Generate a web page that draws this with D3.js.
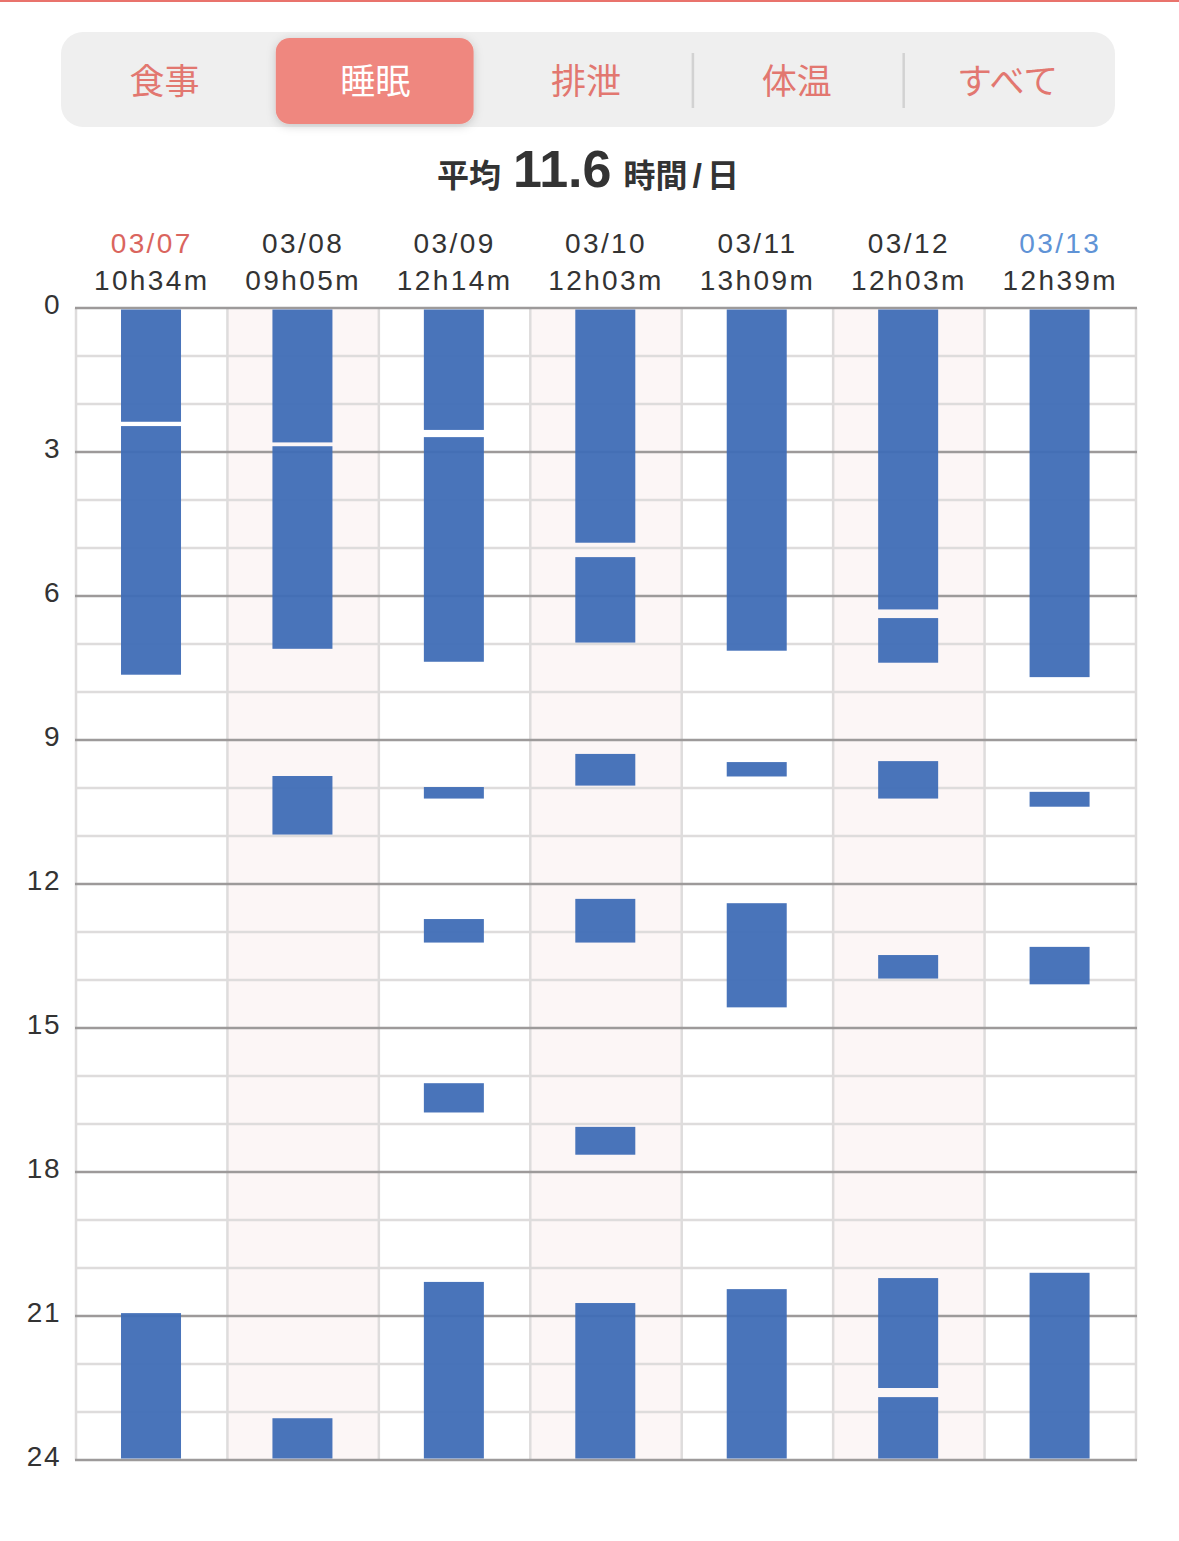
<!DOCTYPE html>
<html lang="ja">
  <head>
    <meta charset="utf-8" />
    <title>睡眠</title>
    <script src="https://d3js.org/d3.v7.min.js"></script>
    <style>
      body { margin: 0; background: #fff; }
      svg { display: block; font-family: "Liberation Sans", "Noto Sans CJK JP", sans-serif; }
    </style>
  </head>
  <body>
    <svg id="chart" width="1179" height="1541"></svg>
  </body>
  <script>
    // Data
    const tabs = ['食事', '睡眠', '排泄', '体温', 'すべて'];
    const selectedTab = '睡眠';
    const dates = ['03/07', '03/08', '03/09', '03/10', '03/11', '03/12', '03/13'];
    const totals = ['10h34m', '09h05m', '12h14m', '12h03m', '13h09m', '12h03m', '12h39m'];
    const hourTicks = [0, 3, 6, 9, 12, 15, 18, 21, 24];
    const average = '11.6';

    // sleep spans per day, [start hour, end hour]
    const sleep0307 = [[0, 2.37], [2.46, 7.64], [20.94, 24]];
    const sleep0308 = [[0, 2.8], [2.88, 7.1], [9.75, 10.97], [23.13, 24]];
    const sleep0309 = [[0, 2.54], [2.69, 7.37], [9.98, 10.22], [12.73, 13.22], [16.15, 16.76], [20.29, 24]];
    const sleep0310 = [[0, 4.89], [5.19, 6.97], [9.29, 9.95], [12.31, 13.22], [17.06, 17.64], [20.73, 24]];
    const sleep0311 = [[0, 7.14], [9.46, 9.76], [12.4, 14.57], [20.44, 24]];
    const sleep0312 = [[0, 6.28], [6.46, 7.39], [9.44, 10.22], [13.48, 13.97], [20.21, 22.5], [22.69, 24]];
    const sleep0313 = [[0, 7.69], [10.08, 10.39], [13.31, 14.09], [20.1, 24]];

    const spansByDay = [sleep0307, sleep0308, sleep0309, sleep0310, sleep0311, sleep0312, sleep0313];
    const spans = spansByDay.flatMap((list, i) =>
      list.map(([start, end]) => ({ date: dates[i], start, end })));

    const svg = d3.select('#chart');
    const W = 1179;

    // red line along the top edge
    svg.append('rect')
      .attr('x', 0).attr('y', 0)
      .attr('width', W).attr('height', 2)
      .attr('fill', '#e9736c');

    // ---- tab bar ----
    const defs = svg.append('defs');
    const shadow = defs.append('filter').attr('id', 'pillShadow')
      .attr('x', '-20%').attr('y', '-30%').attr('width', '140%').attr('height', '160%');
    shadow.append('feDropShadow')
      .attr('dx', 0).attr('dy', 2).attr('stdDeviation', 5)
      .attr('flood-color', '#000').attr('flood-opacity', 0.18);

    const tabX = d3.scaleBand().domain(tabs).range([61, 1115]);
    const tabBar = svg.append('g');
    tabBar.append('rect')
      .attr('x', 61).attr('y', 32)
      .attr('width', 1054).attr('height', 95)
      .attr('rx', 22)
      .attr('fill', '#efefef');

    // separators between the unselected tabs on the right
    tabBar.selectAll('line.sep')
      .data(tabs.slice(3))
      .join('line')
      .attr('class', 'sep')
      .attr('x1', (d) => tabX(d) - 0.5).attr('x2', (d) => tabX(d) - 0.5)
      .attr('y1', 53).attr('y2', 108)
      .attr('stroke', '#d2d2d2').attr('stroke-width', 2.5);

    tabBar.append('rect')
      .attr('x', tabX(selectedTab) + 4).attr('y', 38)
      .attr('width', tabX.bandwidth() - 13).attr('height', 86)
      .attr('rx', 14)
      .attr('fill', '#ef877f')
      .attr('filter', 'url(#pillShadow)');

    tabBar.selectAll('text.tab')
      .data(tabs)
      .join('text')
      .attr('class', 'tab')
      .attr('x', (d) => tabX(d) + tabX.bandwidth() / 2 - 2)
      .attr('y', 94)
      .attr('text-anchor', 'middle')
      .attr('font-family', '"Noto Sans CJK JP", sans-serif')
      .attr('font-size', 35)
      .attr('fill', (d) => d === selectedTab ? '#ffffff' : '#e27770')
      .text((d) => d);

    // ---- average title ----
    const title = svg.append('text')
      .attr('x', 588).attr('y', 187)
      .attr('text-anchor', 'middle')
      .attr('fill', '#333')
      .attr('font-weight', 700);
    title.append('tspan')
      .attr('font-family', '"Noto Sans CJK JP", sans-serif')
      .attr('font-size', 32).text('平均');
    title.append('tspan')
      .attr('dx', 12)
      .attr('font-size', 52).text(average);
    title.append('tspan')
      .attr('dx', 12)
      .attr('font-family', '"Noto Sans CJK JP", sans-serif')
      .attr('font-size', 32).text('時間');
    title.append('tspan')
      .attr('dx', 5)
      .attr('font-size', 34).text('/');
    title.append('tspan')
      .attr('dx', 5)
      .attr('font-family', '"Noto Sans CJK JP", sans-serif')
      .attr('font-size', 32).text('日');

    // ---- scales ----
    const xScale = d3.scaleBand()
      .domain(dates)
      .range([76, 1136]);
    const yScale = d3.scaleLinear()
      .domain([0, 24])
      .range([308, 1460]);
    const barWidth = 60;

    // shaded every other day
    svg.append('g')
      .selectAll('rect')
      .data(dates.filter((d, i) => i % 2 === 1))
      .join('rect')
      .attr('x', (d) => xScale(d))
      .attr('y', yScale(0))
      .attr('width', xScale.bandwidth())
      .attr('height', yScale(24) - yScale(0))
      .attr('fill', '#fcf6f6');

    // hourly grid lines
    const grid = svg.append('g');
    grid.selectAll('line.hour')
      .data(d3.range(0, 25).filter((h) => h % 3 !== 0))
      .join('line')
      .attr('class', 'hour')
      .attr('x1', 76).attr('x2', 1136)
      .attr('y1', (d) => yScale(d)).attr('y2', (d) => yScale(d))
      .attr('stroke', '#dedcdc').attr('stroke-width', 2.5);

    // day column lines
    grid.selectAll('line.day')
      .data(dates.concat(['end']))
      .join('line')
      .attr('class', 'day')
      .attr('x1', (d) => d === 'end' ? 1136 : xScale(d))
      .attr('x2', (d) => d === 'end' ? 1136 : xScale(d))
      .attr('y1', yScale(0)).attr('y2', yScale(24))
      .attr('stroke', '#dedcdc').attr('stroke-width', 2.5);

    // every 3 hours, darker
    grid.selectAll('line.major')
      .data(hourTicks)
      .join('line')
      .attr('class', 'major')
      .attr('x1', 75).attr('x2', 1137)
      .attr('y1', (d) => yScale(d)).attr('y2', (d) => yScale(d))
      .attr('stroke', '#9d9a9a').attr('stroke-width', 2.5);

    // sleep bars
    svg.append('g')
      .selectAll('rect')
      .data(spans)
      .join('rect')
      .attr('x', (d) => xScale(d.date) + (xScale.bandwidth() - barWidth) / 2 - 0.7)
      .attr('y', (d) => yScale(d.start) + (d.start === 0 ? 1.5 : 0))
      .attr('width', barWidth)
      .attr('height', (d) => yScale(d.end) - yScale(d.start) - (d.start === 0 ? 1.5 : 0) - (d.end === 24 ? 1.5 : 0))
      .attr('fill', '#3f6db6')
      .attr('fill-opacity', 0.95);

    // hour labels on the left
    const yAxis = svg.append('g')
      .attr('transform', 'translate(63, -3)')
      .call(d3.axisLeft(yScale).tickValues(hourTicks).tickSize(0).tickPadding(2));
    yAxis.select('.domain').remove();
    yAxis.selectAll('text')
      .attr('font-family', '"Liberation Sans", sans-serif')
      .attr('font-size', 28)
      .attr('letter-spacing', 1.5)
      .attr('fill', '#333');

    // day headers: date and total
    const header = svg.append('g')
      .attr('letter-spacing', 2.4);
    header.selectAll('text.date')
      .data(dates)
      .join('text')
      .attr('class', 'date')
      .attr('x', (d) => xScale(d) + xScale.bandwidth() / 2)
      .attr('y', 253)
      .attr('text-anchor', 'middle')
      .attr('font-size', 28)
      .attr('fill', (d, i) => i === 0 ? '#da655e' : i === dates.length - 1 ? '#5f93d6' : '#333')
      .text((d) => d);
    header.selectAll('text.total')
      .data(totals)
      .join('text')
      .attr('class', 'total')
      .attr('x', (d, i) => xScale(dates[i]) + xScale.bandwidth() / 2)
      .attr('y', 290)
      .attr('text-anchor', 'middle')
      .attr('font-size', 28)
      .attr('fill', '#333')
      .text((d) => d);
  </script>
</html>
